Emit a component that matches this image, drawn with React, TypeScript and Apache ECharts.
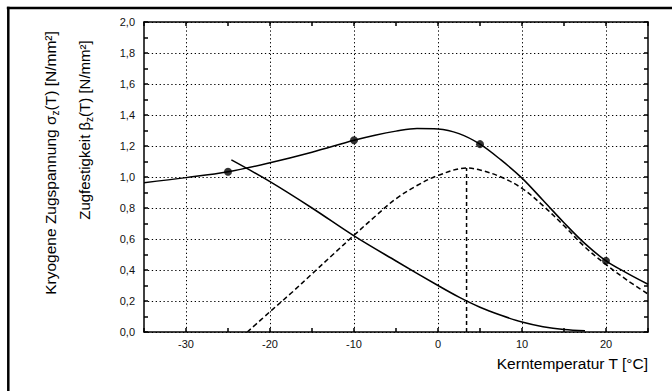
import React, { useEffect, useRef } from "react";
import * as echarts from "echarts";

// x-axis tick values / labels
const xTickValues = [-30, -20, -10, 0, 10, 20];
const xTickLabels = ["-30", "-20", "-10", "0", "10", "20"];
// y-axis tick labels (0,0 .. 2,0 step 0,2)
const yTickLabels = ["0,0", "0,2", "0,4", "0,6", "0,8", "1,0", "1,2", "1,4", "1,6", "1,8", "2,0"];

// upper solid curve (Zugfestigkeit)
const upperT = [-35, -30, -25, -20, -15, -10, -7.5, -5, -2.5, 0, 2.5, 5, 7.5, 10, 12.5, 15, 17.5, 20, 22.5, 25];
const upperV = [0.963, 0.996, 1.034, 1.092, 1.16, 1.237, 1.27, 1.296, 1.313, 1.31, 1.28, 1.212, 1.11, 0.993, 0.85, 0.705, 0.57, 0.459, 0.38, 0.308];

// measured points on the upper curve
const dotT = [-25, -10, 5, 20];
const dotV = [1.034, 1.237, 1.212, 0.459];

// lower solid curve (kryogene Zugspannung)
const lowerT = [-24.6, -20, -15, -10, -5, 0, 2.5, 5, 7.5, 10, 12.5, 15, 17.5];
const lowerV = [1.11, 0.97, 0.8, 0.62, 0.458, 0.3, 0.225, 0.16, 0.108, 0.064, 0.034, 0.016, 0.008];

// dashed curve
const dashT = [-22.7, -20, -17.5, -15, -12.5, -10, -7.5, -5, -2.5, 0, 3.4, 5, 7.5, 10, 12.5, 15, 17.5, 20, 22.5, 25];
const dashV = [0, 0.131, 0.25, 0.375, 0.5, 0.624, 0.745, 0.86, 0.945, 1.01, 1.058, 1.045, 1.0, 0.927, 0.815, 0.685, 0.548, 0.435, 0.335, 0.245];

// vertical dashed marker at the maximum of the dashed curve
const peakT = 3.4;
const peakV = 1.058;

const FONT = "'Liberation Sans', Arial, Helvetica, sans-serif";

function pairs(xs: number[], ys: number[]) {
  return xs.map((x, i) => [x, ys[i]]);
}

export default function App() {
  const ref = useRef<HTMLDivElement>(null);

  useEffect(() => {
    if (!ref.current) return;
    const chart = echarts.init(ref.current, undefined, { renderer: "svg" });

    const axisLine = { show: true, onZero: false, lineStyle: { color: "#000", width: 1.5 } };
    const axisTick = { show: true, inside: true, length: 4, lineStyle: { color: "#000", width: 1.5 } };
    const dotted = { color: "#000", width: 1, type: [1.3, 2.6] as any };

    const xFmt = (v: number) => {
      const i = xTickValues.indexOf(Math.round(v));
      return i >= 0 && Math.abs(v - xTickValues[i]) < 1e-6 ? xTickLabels[i] : "";
    };
    const yFmt = (v: number) => {
      const i = Math.round(v / 0.2);
      return Math.abs(v - i * 0.2) < 1e-6 && yTickLabels[i] ? yTickLabels[i] : "";
    };

    const solid = { color: "#000", width: 1.5 };
    const makeRich = (size: number) => ({
      a: { fontSize: size, fontFamily: FONT, lineHeight: 20, verticalAlign: "middle", fill: "#000" },
      sub: { fontSize: 10, fontFamily: FONT, lineHeight: 12, verticalAlign: "bottom", fill: "#000" },
    });

    chart.setOption({
      animation: false,
      backgroundColor: "#fff",
      grid: { left: 144, top: 22, right: 24, bottom: 59, containLabel: false },
      xAxis: [
        {
          type: "value",
          min: -35,
          max: 25,
          interval: 5,
          position: "bottom",
          axisLine,
          axisTick,
          axisLabel: { margin: 6, color: "#111", fontSize: 11, fontFamily: FONT, formatter: xFmt },
          splitLine: { show: false },
        },
        {
          type: "value",
          min: -35,
          max: 25,
          interval: 5,
          position: "top",
          axisLine,
          axisTick,
          axisLabel: { show: false },
          splitLine: { show: false },
        },
      ],
      yAxis: [
        {
          type: "value",
          min: 0,
          max: 2,
          interval: 0.2,
          position: "left",
          axisLine,
          axisTick,
          minorTick: { show: true, splitNumber: 2, length: 4, lineStyle: { color: "#000", width: 1.5 } },
          axisLabel: { margin: 9, color: "#111", fontSize: 11, fontFamily: FONT, formatter: yFmt },
          splitLine: { show: true, lineStyle: dotted },
        },
        {
          type: "value",
          min: 0,
          max: 2,
          interval: 0.2,
          position: "right",
          axisLine,
          axisTick,
          minorTick: { show: true, splitNumber: 2, length: 4, lineStyle: { color: "#000", width: 1.5 } },
          axisLabel: { show: false },
          splitLine: { show: false },
        },
      ],
      series: [
        {
          type: "line",
          name: "Gitter",
          data: [],
          z: 1,
          markLine: {
            silent: true,
            symbol: ["none", "none"],
            label: { show: false },
            lineStyle: dotted,
            data: xTickValues.map((v) => ({ xAxis: v })),
          },
        },
        {
          type: "line",
          name: "Zugfestigkeit",
          data: pairs(upperT, upperV),
          smooth: 0.35,
          showSymbol: false,
          lineStyle: solid,
          z: 3,
        },
        {
          type: "scatter",
          name: "Messwerte",
          data: pairs(dotT, dotV),
          symbol: "circle",
          symbolSize: 8,
          itemStyle: { color: "#000" },
          z: 4,
        },
        {
          type: "line",
          name: "Kryogene Zugspannung",
          data: pairs(lowerT, lowerV),
          smooth: 0.35,
          showSymbol: false,
          lineStyle: solid,
          z: 3,
        },
        {
          type: "line",
          name: "Differenz",
          data: pairs(dashT, dashV),
          smooth: 0.35,
          showSymbol: false,
          lineStyle: { color: "#000", width: 1.5, type: [5, 3] as any },
          z: 3,
        },
        {
          type: "line",
          name: "Maximum",
          data: [
            [peakT, 0],
            [peakT, peakV],
          ],
          showSymbol: false,
          lineStyle: { color: "#000", width: 1.5, type: [4, 3] as any },
          z: 3,
        },
      ],
      graphic: [
        {
          type: "line",
          silent: true,
          shape: { x1: 6.8, y1: 8, x2: 680, y2: 8 },
          style: { stroke: "#000", lineWidth: 2.5 },
        },
        {
          type: "line",
          silent: true,
          shape: { x1: 8.3, y1: 6.8, x2: 8.3, y2: 400 },
          style: { stroke: "#000", lineWidth: 2.5 },
        },
        {
          type: "text",
          x: 50,
          y: 163,
          rotation: Math.PI / 2,
          style: {
            text: "{a|Kryogene Zugspannung σ}{sub|z}{a|(T) [N/mm²]}",
            align: "center",
            verticalAlign: "middle",
            textAlign: "center",
            textVerticalAlign: "middle",
            rich: makeRich(15.5),
          },
        },
        {
          type: "text",
          x: 84,
          y: 130,
          rotation: Math.PI / 2,
          style: {
            text: "{a|Zugfestigkeit β}{sub|z}{a|(T) [N/mm²]}",
            align: "center",
            verticalAlign: "middle",
            textAlign: "center",
            textVerticalAlign: "middle",
            rich: makeRich(15),
          },
        },
        {
          type: "text",
          x: 648,
          y: 363,
          style: {
            text: "Kerntemperatur T [°C]",
            fontSize: 15.5,
            fontFamily: FONT,
            fill: "#000",
            align: "right",
            verticalAlign: "middle",
            textAlign: "right",
            textVerticalAlign: "middle",
          },
        },
      ],
    });

    return () => chart.dispose();
  }, []);

  return (
    <div
      ref={ref}
      style={{ position: "fixed", left: 0, top: 0, width: 672, height: 391, background: "#fff" }}
    />
  );
}
